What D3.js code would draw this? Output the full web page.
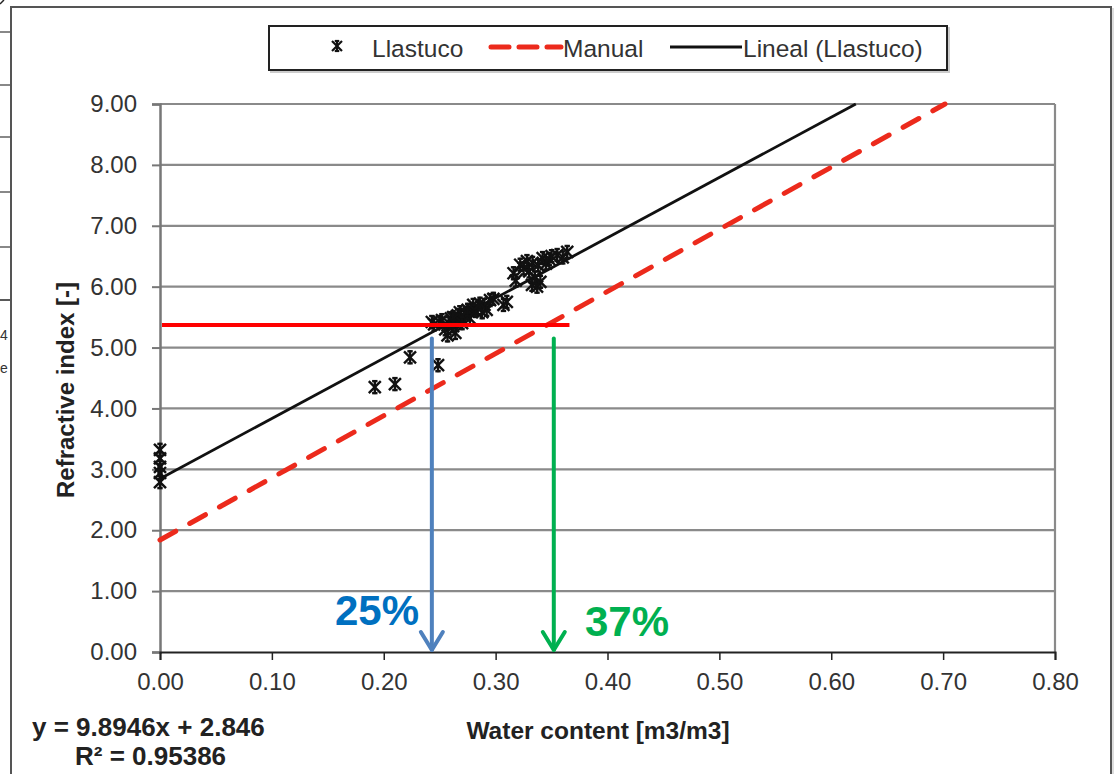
<!DOCTYPE html>
<html><head><meta charset="utf-8">
<script src="https://cdn.jsdelivr.net/npm/d3@7"></script>
<style>html,body{margin:0;padding:0;background:#fff;}svg{display:block;font-family:"Liberation Sans",Arial,sans-serif;}</style>
</head><body>
<svg id="c" width="1118" height="774"></svg>
<script>
// ---- data ----
const xTicks = [0, 0.1, 0.2, 0.3, 0.4, 0.5, 0.6, 0.7, 0.8];
const yTicks = [0, 1, 2, 3, 4, 5, 6, 7, 8, 9];
const llastucoX = [0, 0, 0, 0, 0, 0.192, 0.21, 0.2235, 0.2485, 0.243, 0.25, 0.257, 0.264, 0.26, 0.266, 0.27, 0.273, 0.277, 0.279, 0.284, 0.288, 0.29, 0.295, 0.28, 0.307, 0.31, 0.316, 0.322, 0.333, 0.3325, 0.337, 0.342, 0.355, 0.364, 0.348,
  0.245, 0.252, 0.258, 0.262, 0.268, 0.272, 0.275, 0.282, 0.286, 0.292, 0.298, 0.255, 0.262, 0.27,
  0.318, 0.325, 0.33, 0.338, 0.345, 0.35, 0.36, 0.328, 0.34, 0.335];
const llastucoY = [3.32, 3.18, 3.04, 2.94, 2.79, 4.35, 4.40, 4.84, 4.71, 5.42, 5.42, 5.20, 5.24, 5.48, 5.53, 5.45, 5.57, 5.48, 5.62, 5.65, 5.58, 5.70, 5.78, 5.70, 5.70, 5.75, 6.22, 6.36, 6.39, 6.03, 6.00, 6.47, 6.52, 6.57, 6.45,
  5.38, 5.45, 5.40, 5.50, 5.58, 5.52, 5.62, 5.60, 5.72, 5.62, 5.80, 5.30, 5.35, 5.40,
  6.10, 6.30, 6.25, 6.35, 6.38, 6.50, 6.48, 6.42, 6.08, 6.15];
const trendSlope = 9.8946, trendIntercept = 2.846;
const manualX = [0, 0.7017];
const manualY = [1.84, 9.0];
const refLevel = 5.37;           // horizontal red reference
const refLineX = [0, 0.366];
const arrowX = [0.243, 0.352];   // blue 25%, green 37%
const arrowTopY = 5.15;
const arrowLabels = ["25%", "37%"];
const eqText = ["y = 9.8946x + 2.846", "R² = 0.95386"];

// ---- layout ----
const svg = d3.select("#c");
const X0 = 160, X1 = 1055, Y0 = 652, Y1 = 104;
const x = d3.scaleLinear().domain([0, 0.8]).range([X0, X1]);
const y = d3.scaleLinear().domain([0, 9]).range([Y0, Y1]);
const FONT = "Liberation Sans, Arial, sans-serif";

// stray fragments of the neighbouring page at far left
const stray = [32, 85, 137, 192, 247];
svg.selectAll("line.stray").data(stray).enter().append("line")
  .attr("x1", 0).attr("x2", 10).attr("y1", d => d).attr("y2", d => d)
  .attr("stroke", "#888").attr("stroke-width", 2);
svg.append("line").attr("x1", 0).attr("x2", 10).attr("y1", 300).attr("y2", 300).attr("stroke", "#222").attr("stroke-width", 1.5);
svg.append("line").attr("x1", 0).attr("x2", 4).attr("y1", 4).attr("y2", 0).attr("stroke", "#222").attr("stroke-width", 1.5);
svg.append("text").attr("x", 0).attr("y", 340).attr("font-size", 14).attr("fill", "#333").text("4");
svg.append("text").attr("x", 0).attr("y", 373).attr("font-size", 14).attr("fill", "#333").text("e");

// chart frame
svg.append("rect").attr("x", 13).attr("y", 9).attr("width", 1100).attr("height", 780)
  .attr("fill", "none").attr("stroke", "#ddd").attr("stroke-width", 2);
svg.append("rect").attr("x", 11).attr("y", 7).attr("width", 1100).attr("height", 780)
  .attr("fill", "#fff").attr("stroke", "#555").attr("stroke-width", 2);

// gridlines
const g = svg.append("g");
g.selectAll("line.grid").data(yTicks.slice(1)).enter().append("line")
  .attr("x1", X0).attr("x2", X1).attr("y1", d => y(d)).attr("y2", d => y(d))
  .attr("stroke", "#8a8a8a").attr("stroke-width", 2.2);
g.append("line").attr("x1", X1).attr("x2", X1).attr("y1", Y1).attr("y2", Y0)
  .attr("stroke", "#8a8a8a").attr("stroke-width", 2.2);

// y axis
const yAxis = d3.axisLeft(y).tickValues(yTicks).tickFormat(d3.format(".2f")).tickSize(8).tickPadding(15);
const ya = svg.append("g").attr("transform", `translate(${X0},0)`).call(yAxis);
ya.select(".domain").attr("stroke", "#777").attr("stroke-width", 2.5);
ya.selectAll(".tick line").attr("stroke", "#777").attr("stroke-width", 2);
ya.selectAll(".tick text").attr("font-size", 24).attr("fill", "#333").attr("font-family", FONT);

// x axis
const xAxis = d3.axisBottom(x).tickValues(xTicks).tickFormat(d3.format(".2f")).tickSize(8).tickPadding(13);
const xa = svg.append("g").attr("transform", `translate(0,${Y0})`).call(xAxis);
xa.select(".domain").attr("stroke", "#222").attr("stroke-width", 2);
xa.selectAll(".tick line").attr("stroke", "#222").attr("stroke-width", 1.5);
xa.selectAll(".tick text").attr("font-size", 24).attr("fill", "#333").attr("font-family", FONT);

// manual dashed line
const line = d3.line().x(d => x(d[0])).y(d => y(d[1]));
svg.append("path").datum(d3.zip(manualX, manualY)).attr("d", line)
  .attr("fill", "none").attr("stroke", "#ec2a1c").attr("stroke-width", 5)
  .attr("stroke-dasharray", "18,16").attr("stroke-linecap", "round");

// trend line
const xEnd = (9 - trendIntercept) / trendSlope;
svg.append("path").datum([[0, trendIntercept], [xEnd, trendSlope * xEnd + trendIntercept]]).attr("d", line)
  .attr("fill", "none").attr("stroke", "#111").attr("stroke-width", 2.8);

// star markers (asterisk)
function star(sel, s) {
  sel.append("line").attr("x1", -s).attr("y1", -s).attr("x2", s).attr("y2", s);
  sel.append("line").attr("x1", -s).attr("y1", s).attr("x2", s).attr("y2", -s);
  sel.append("line").attr("x1", 0).attr("y1", -s - 1).attr("x2", 0).attr("y2", s + 1);
  sel.append("line").attr("x1", -s * 0.45).attr("y1", -s).attr("x2", s * 0.45).attr("y2", -s);
  sel.append("line").attr("x1", -s * 0.45).attr("y1", s).attr("x2", s * 0.45).attr("y2", s);
}
const pts = svg.append("g").attr("stroke", "#111").attr("stroke-width", 2.4);
d3.zip(llastucoX, llastucoY).forEach(d => {
  const m = pts.append("g").attr("transform", `translate(${x(d[0])},${y(d[1])})`);
  star(m, 6);
});

// red horizontal reference
svg.append("line").attr("x1", x(refLineX[0]) + 2).attr("x2", x(refLineX[1]))
  .attr("y1", y(refLevel)).attr("y2", y(refLevel)).attr("stroke", "#ff0000").attr("stroke-width", 4);

// arrows
const arrowCols = ["#4f81bd", "#00b050"];
arrowX.forEach((ax, i) => {
  const px = x(ax), top = y(arrowTopY), bot = y(0);
  const a = svg.append("g").attr("stroke", arrowCols[i]).attr("stroke-width", 4).attr("fill", "none").attr("stroke-linecap", "round");
  a.append("line").attr("x1", px).attr("x2", px).attr("y1", top).attr("y2", bot - 2);
  a.append("path").attr("d", `M${px - 11},${bot - 20} L${px},${bot - 2} L${px + 11},${bot - 20}`).attr("stroke-linejoin", "round");
});
const labCols = ["#0070c0", "#00b050"];
svg.append("text").attr("x", 335).attr("y", 625).attr("font-size", 42).attr("font-weight", "bold").attr("fill", labCols[0]).text(arrowLabels[0]);
svg.append("text").attr("x", 585).attr("y", 636).attr("font-size", 42).attr("font-weight", "bold").attr("fill", labCols[1]).text(arrowLabels[1]);

// axis titles
svg.append("text").attr("x", 598).attr("y", 739).attr("text-anchor", "middle").attr("font-size", 24.5).attr("font-weight", "bold").attr("fill", "#222").text("Water content [m3/m3]");
svg.append("text").attr("transform", "translate(74,390) rotate(-90)").attr("text-anchor", "middle").attr("font-size", 24).attr("font-weight", "bold").attr("fill", "#222").text("Refractive index [-]");

// equation
svg.append("text").attr("x", 32).attr("y", 736).attr("font-size", 26).attr("font-weight", "bold").attr("fill", "#222").text(eqText[0]);
svg.append("text").attr("x", 75).attr("y", 765).attr("font-size", 26).attr("font-weight", "bold").attr("fill", "#222").text(eqText[1]);

// legend
const lg = svg.append("g");
lg.append("rect").attr("x", 271).attr("y", 28).attr("width", 678).attr("height", 44).attr("fill", "none").attr("stroke", "#ccc").attr("stroke-width", 2);
lg.append("rect").attr("x", 269).attr("y", 26).attr("width", 678).attr("height", 44).attr("fill", "#fff").attr("stroke", "#222").attr("stroke-width", 2);
const ls = lg.append("g").attr("transform", "translate(337,46)").attr("stroke", "#111").attr("stroke-width", 2.2);
star(ls, 5);
lg.append("text").attr("x", 372).attr("y", 57).attr("font-size", 24.5).attr("fill", "#333").text("Llastuco");
lg.append("line").attr("x1", 491).attr("x2", 561).attr("y1", 47).attr("y2", 47).attr("stroke", "#ec2a1c").attr("stroke-width", 5).attr("stroke-dasharray", "18,10").attr("stroke-linecap", "round");
lg.append("text").attr("x", 563).attr("y", 57).attr("font-size", 24.5).attr("fill", "#333").text("Manual");
lg.append("line").attr("x1", 670).attr("x2", 742).attr("y1", 47).attr("y2", 47).attr("stroke", "#111").attr("stroke-width", 2.8);
lg.append("text").attr("x", 743).attr("y", 57).attr("font-size", 24.5).attr("fill", "#333").text("Lineal (Llastuco)");
</script>
</body></html>
